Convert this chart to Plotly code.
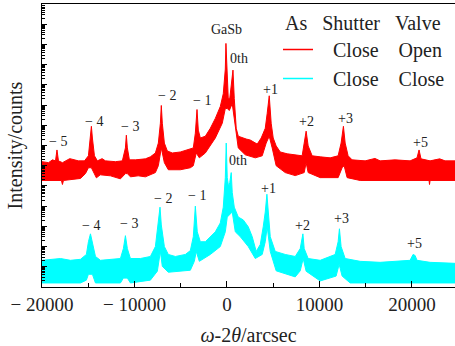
import plotly.graph_objects as go

# ---- data (omega-2theta in arcsec, log10 intensity envelopes of the noisy curves) ----
red_up_x = [-20000,-19300,-18870,-18540,-18380,-18220,-17790,-17000,-16060,-15410,-14980,-14760,-14660,-14550,-14330,-14010,-13500,-13140,-12060,-11310,-10980,-10880,-10770,-10550,-9900,-8820,-8280,-7740,-7420,-7200,-7100,-6990,-6770,-6450,-5910,-5040,-4180,-3640,-3420,-3240,-3100,-2880,-2340,-1800,-1260,-720,-400,-180,-110,-20,140,300,460,650,790,1000,1220,1650,2080,2520,2950,3270,3700,4140,4350,4570,4780,5000,5320,5760,6510,7380,8130,8350,8560,8780,9210,10080,11160,12020,12340,12590,12780,13100,13530,14940,16000,16560,18180,19800,20550,20770,20980,21960,23000,23580,24700]
red_up_y = [6.20,6.15,6.29,6.24,6.78,6.24,6.15,6.35,6.24,6.24,6.49,7.37,7.95,7.37,6.49,6.24,6.35,6.24,6.20,6.24,6.88,7.51,6.88,6.29,6.29,6.34,6.44,6.63,7.12,8.10,8.98,8.10,7.12,6.73,6.63,6.68,6.78,6.88,7.61,8.78,7.76,7.37,7.46,7.85,8.34,8.93,9.56,10.78,12.05,10.78,9.32,9.32,10.05,10.73,9.32,7.85,7.46,7.37,7.32,7.27,7.17,7.07,7.37,7.85,8.59,9.46,8.10,7.37,6.98,6.68,6.59,6.54,6.49,7.12,7.71,6.98,6.49,6.44,6.39,6.49,7.12,7.95,7.12,6.49,6.29,6.24,6.36,6.24,6.29,6.24,6.39,6.78,6.34,6.24,6.34,6.24,6.24]
red_lo_x = [-20000,-17900,-17790,-17680,-15840,-15300,-14980,-14660,-14330,-14120,-13700,-12600,-11520,-10980,-10770,-10440,-9600,-8820,-7740,-7420,-7100,-6770,-6340,-5040,-3960,-3640,-3320,-2990,-2340,-1260,-510,-180,30,250,570,900,1220,1980,3060,3810,4240,4570,4890,5320,6300,7380,8350,8560,8780,10080,12020,12450,12670,12990,14400,21850,21900,21960,24700]
red_lo_y = [5.27,5.27,5.07,5.27,5.37,5.61,5.90,5.90,5.61,5.40,5.55,5.50,5.35,5.61,5.61,5.45,5.50,5.45,5.66,6.00,6.88,6.15,5.80,5.80,5.90,6.00,6.63,6.39,6.63,7.37,8.10,8.83,8.83,8.73,9.07,8.10,6.88,6.54,6.39,6.49,7.12,7.46,6.88,6.00,5.66,5.51,5.66,6.15,5.66,5.41,5.41,5.90,6.00,5.41,5.27,5.27,5.07,5.27,5.27]

cyan_up_x = [-20000,-19080,-18000,-16920,-15840,-15200,-14980,-14760,-14550,-14220,-13680,-12600,-11520,-11200,-10980,-10770,-10440,-9360,-8280,-7740,-7420,-7240,-7100,-6770,-6340,-5580,-4500,-3960,-3640,-3420,-3210,-2880,-2340,-1800,-1260,-720,-400,-180,-80,30,190,300,460,570,790,1220,1760,2300,2730,3160,3600,3920,4140,4320,4460,4680,5220,6300,7380,7920,8210,8350,8780,10080,11700,12020,12160,12340,12780,14400,16560,18720,19800,20120,20340,20550,21960,24700]
cyan_up_y = [1.32,1.37,1.41,1.32,1.37,1.61,2.24,2.63,2.24,1.51,1.32,1.37,1.41,1.90,2.54,1.90,1.41,1.41,1.51,2.00,3.22,3.95,3.07,2.00,1.61,1.51,1.61,1.80,2.49,4.00,2.73,2.24,2.24,2.49,2.73,3.17,3.95,5.41,7.12,5.41,4.93,5.17,5.66,4.68,3.95,3.46,3.32,2.98,2.49,1.76,2.10,2.98,3.71,4.59,3.56,2.49,1.76,1.61,1.51,1.90,2.63,1.90,1.41,1.32,1.61,2.24,2.88,2.00,1.41,1.27,1.22,1.27,1.32,1.61,1.56,1.32,1.22,1.17]
cyan_lo_x = [-20000,-15840,-15200,-14980,-14550,-14220,-11520,-11200,-10770,-10440,-8280,-7530,-7200,-6990,-6340,-3960,-3530,-3320,-2990,-1800,-720,-180,30,570,900,1440,2300,3060,3810,4140,4350,4680,5320,7380,7920,8240,8560,10080,11800,12130,12450,13320,24700]
cyan_lo_y = [0.20,0.20,0.34,0.63,0.63,0.20,0.20,0.44,0.44,0.20,0.34,0.78,1.76,1.02,0.73,0.83,1.27,1.76,1.27,1.61,2.00,2.73,3.46,3.71,2.73,2.49,2.00,1.41,1.61,2.24,2.98,1.76,0.80,0.50,0.80,1.41,0.78,0.30,0.54,1.12,0.54,0.20,0.20]

red_labels = ["\u2212 5","\u2212 4","\u2212 3","\u2212 2","\u2212 1","GaSb","0th","+1","+2","+3","+5"]
red_label_x = [-18220,-14410,-10440,-6480,-2700,-80,1330,4750,8640,12780,20950]
red_label_y = [7.20,8.21,7.94,9.48,9.22,12.73,11.32,9.76,8.21,8.34,7.17]
cyan_labels = ["\u2212 4","\u2212 3","\u2212 2","\u2212 1","0th","+1","+2","+3","+5"]
cyan_label_x = [-14660,-10550,-6880,-3240,1220,4490,8210,12420,20260]
cyan_label_y = [3.06,3.14,4.36,4.54,6.24,4.88,3.02,3.41,2.16]

x_ticks = [-20000,-10000,0,10000,20000]
x_ticktext = ["\u2212 20000","\u2212 10000","0","10000","20000"]

NB = "\u00a0"
legend_title = NB + "As" + NB * 3 + "Shutter" + NB * 3 + "Valve" + NB
legend_names = [NB * 3 + "Close" + NB * 4 + "Open" + NB, NB * 3 + "Close" + NB * 4 + "Close" + NB]

RED = "#ff0000"
CYAN = "#00ffff"
FONT = "Liberation Serif, DejaVu Serif, serif"
TXT = "#222222"

def band(xu, yu, xl, yl):
    xs = list(xu) + list(reversed(xl))
    ys = [10 ** v for v in yu] + [10 ** v for v in reversed(yl)]
    return xs, ys

fig = go.Figure()
for (xu, yu, xl, yl, col) in [(red_up_x, red_up_y, red_lo_x, red_lo_y, RED),
                              (cyan_up_x, cyan_up_y, cyan_lo_x, cyan_lo_y, CYAN)]:
    xs, ys = band(xu, yu, xl, yl)
    fig.add_trace(go.Scatter(x=xs, y=ys, mode="lines", fill="toself", fillcolor=col,
                             line=dict(color=col, width=1), showlegend=False, hoverinfo="skip"))

for name, col in zip(legend_names, [RED, CYAN]):
    fig.add_trace(go.Scatter(x=[None], y=[None], mode="lines", line=dict(color=col, width=1.5), name=name))

for t, x, y in zip(red_labels, red_label_x, red_label_y):
    fig.add_annotation(x=x, y=y, text=t, showarrow=False, font=dict(family=FONT, size=14, color=TXT))
for t, x, y in zip(cyan_labels, cyan_label_x, cyan_label_y):
    fig.add_annotation(x=x, y=y, text=t, showarrow=False, font=dict(family=FONT, size=14, color=TXT))

fig.update_layout(
    width=455, height=346,
    margin=dict(l=42, r=0, t=4, b=55),
    plot_bgcolor="white", paper_bgcolor="white",
    font=dict(family=FONT, size=19, color=TXT),
    showlegend=True,
    legend=dict(x=1, xanchor="right", y=1, yanchor="top", bgcolor="rgba(0,0,0,0)",
                title=dict(text=legend_title, font=dict(family=FONT, size=20, color=TXT)),
                font=dict(family=FONT, size=20, color=TXT), itemwidth=30),
    xaxis=dict(range=[-20000, 24656], tickvals=x_ticks, ticktext=x_ticktext,
               ticks="inside", ticklen=6, tickwidth=1, tickcolor="black",
               showline=True, linecolor="black", linewidth=1.3, mirror=True,
               showgrid=False, zeroline=False,
               tickfont=dict(family=FONT, size=19, color=TXT),
               minor=dict(dtick=5000, ticks="inside", ticklen=4, tickcolor="black", showgrid=False),
               title=dict(text="<i>ω</i>-2<i>θ</i>/arcsec", font=dict(family=FONT, size=20, color=TXT), standoff=17)),
    yaxis=dict(type="log", range=[0, 14], dtick=1, showticklabels=False,
               ticks="inside", ticklen=5, tickwidth=1, tickcolor="black",
               showline=True, linecolor="black", linewidth=1.3,
               showgrid=False, zeroline=False,
               minor=dict(ticks="inside", ticklen=3, tickcolor="black", showgrid=False),
               title=dict(text="Intensity/counts", font=dict(family=FONT, size=20, color=TXT), standoff=12)),
)

fig.write_html("out.html")
